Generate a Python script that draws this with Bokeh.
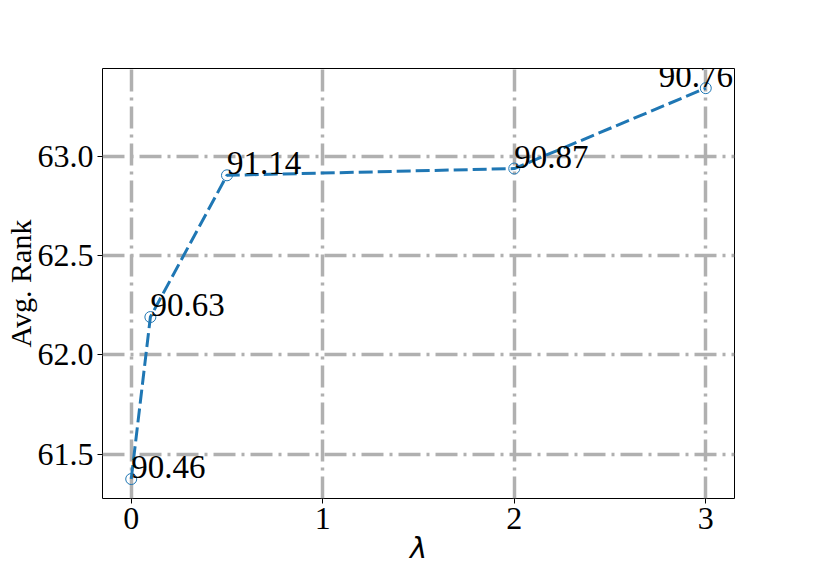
from bokeh.plotting import figure
from bokeh.models import FixedTicker, PrintfTickFormatter, Range1d
from bokeh.core.properties import value
from bokeh.embed import file_html
from bokeh.resources import INLINE

# data
lambdas = [0, 0.1, 0.5, 2, 3]
avg_rank = [61.374, 62.190, 62.904, 62.938, 63.343]
acc_labels = ["90.46", "90.63", "91.14", "90.87", "90.76"]
x_ticks = [0, 1, 2, 3]
y_ticks = [61.5, 62.0, 62.5, 63.0]

SERIF = "Liberation Serif"
BLUE = "#1f77b4"
FS = "33px"

xr = Range1d(-0.15, 3.15)
yr = Range1d(61.276, 63.442)

p = figure(frame_width=632, frame_height=430, x_range=xr, y_range=yr,
           output_backend="svg", toolbar_location=None,
           min_border_left=101, min_border_top=68, min_border_right=63, min_border_bottom=71)
p.background_fill_color = "white"
p.border_fill_color = "white"
p.outline_line_color = "black"
p.outline_line_width = 1

# grid
for g in (p.xgrid, p.ygrid):
    g.grid_line_color = "#b0b0b0"
    g.grid_line_width = 3.5
    g.grid_line_dash = "22 6 3 6"
p.xgrid.ticker = FixedTicker(ticks=x_ticks)
p.ygrid.ticker = FixedTicker(ticks=y_ticks)

# axes
p.xaxis.ticker = FixedTicker(ticks=x_ticks)
p.yaxis.ticker = FixedTicker(ticks=y_ticks)
p.yaxis.formatter = PrintfTickFormatter(format="%.1f")
for ax in (p.xaxis[0], p.yaxis[0]):
    ax.axis_line_color = None
    ax.major_tick_line_color = "black"
    ax.major_tick_line_width = 1
    ax.major_tick_in = 0
    ax.major_tick_out = 5
    ax.minor_tick_line_color = None
    ax.major_label_text_font = SERIF
    ax.major_label_text_font_size = "32px"
    ax.major_label_text_color = "black"
    ax.major_label_standoff = 4
    ax.axis_label_text_color = "black"
    ax.axis_label_text_font_style = "normal"

p.yaxis.axis_label = "Avg. Rank"
p.yaxis.axis_label_text_font = SERIF
p.yaxis.axis_label_text_font_size = "30px"
p.yaxis.axis_label_standoff = -2

p.xaxis.axis_label = "λ"
p.xaxis.axis_label_text_font = "DejaVu Sans"
p.xaxis.axis_label_text_font_style = "italic"
p.xaxis.axis_label_text_font_size = "29px"
p.xaxis.axis_label_standoff = -1

# line + markers
p.line(lambdas, avg_rank, line_color=BLUE, line_width=3, line_dash="14 5")
p.scatter(lambdas, avg_rank, marker="circle", size=11, line_color=BLUE,
          line_width=1, fill_alpha=0)

# annotations (left edge at the point, baseline at the point)
p.text(lambdas[:-1], avg_rank[:-1], text=acc_labels[:-1],
       text_font=value(SERIF), text_font_size=FS, text_color="black",
       text_align="left", text_baseline="middle", y_offset=-12)
p.text(lambdas[-1:], avg_rank[-1:], text=acc_labels[-1:],
       text_font=value(SERIF), text_font_size=FS, text_color="black",
       text_align="left", text_baseline="middle", x_offset=-47, y_offset=-12)

open("out.html", "w").write(file_html(p, INLINE))
